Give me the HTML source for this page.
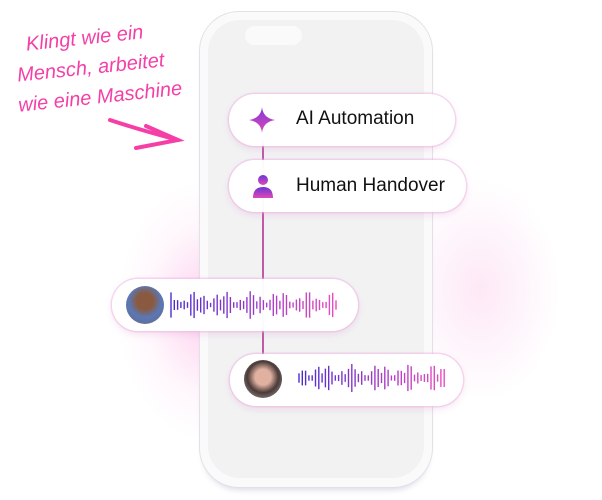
<!DOCTYPE html>
<html><head><style>
body{margin:0;width:602px;height:500px;background:#fff;position:relative;overflow:hidden;font-family:"Liberation Sans",sans-serif}
.abs{position:absolute}
.pill{position:absolute;background:rgba(255,255,255,.97);border-radius:28px;box-shadow:0 0 0 1.5px rgba(240,180,225,.5),0 3px 8px rgba(200,120,190,.2)}
.lbl{position:absolute;font-size:19px;color:#111;white-space:nowrap}
</style></head><body>
<div class="abs" style="left:40px;top:180px;width:260px;height:290px;border-radius:50%;background:radial-gradient(closest-side at 65% 45%,rgba(250,170,225,.55),rgba(255,220,242,.25) 65%,rgba(255,255,255,0))"></div>
<div class="abs" style="left:400px;top:180px;width:160px;height:220px;border-radius:50%;background:radial-gradient(closest-side,rgba(250,190,230,.35),rgba(255,255,255,0))"></div>
<div class="abs" style="left:199px;top:11px;width:234px;height:477px;border-radius:40px;background:#fafafa;border:1px solid #e4e0e8;box-sizing:border-box;box-shadow:0 6px 6px -4px rgba(120,110,160,.25)"></div>
<div class="abs" style="left:208px;top:20px;width:216px;height:458px;border-radius:32px;background:#f2f2f3"></div>
<div class="abs" style="left:245px;top:26px;width:57px;height:19px;border-radius:10px;background:#fafafa"></div>
<div class="abs" style="left:262px;top:140px;width:1.5px;height:215px;background:#c05aa8"></div>
<div class="pill" style="left:229px;top:94px;width:226px;height:52px"></div>
<svg class="abs" style="left:249px;top:107px" width="26" height="26" viewBox="0 0 26 26"><defs><linearGradient id="g0" x1="0" y1="0" x2="0" y2="1"><stop offset="0" stop-color="#7b3ad8"/><stop offset="1" stop-color="#e048b8"/></linearGradient></defs><path d="M13 0 Q14 11 26 13 Q14 15 13 26 Q12 15 0 13 Q12 11 13 0Z" fill="url(#g0)"/></svg>
<div class="lbl" style="left:296px;top:108px">AI Automation</div>
<div class="pill" style="left:229px;top:160px;width:237px;height:52px"></div>
<svg class="abs" style="left:252px;top:174px" width="22" height="24" viewBox="0 0 22 24"><defs><linearGradient id="g1" x1="0" y1="0" x2="0" y2="1"><stop offset="0" stop-color="#6a35d5"/><stop offset="1" stop-color="#e048b8"/></linearGradient></defs><circle cx="11" cy="6" r="5" fill="url(#g1)"/><path d="M1 24 Q1 13 11 13 Q21 13 21 24Z" fill="url(#g1)"/></svg>
<div class="lbl" style="left:296px;top:175px">Human Handover</div>
<div class="pill" style="left:112px;top:279px;width:246px;height:52px"></div>
<div class="abs" style="left:126px;top:286px;width:38px;height:38px;border-radius:50%;background:radial-gradient(circle at 50% 40%,#8a5a40 0 28%,#5a78b8 55%,#667 100%)"></div>
<div class="pill" style="left:230px;top:354px;width:233px;height:52px"></div>
<div class="abs" style="left:244px;top:360px;width:38px;height:38px;border-radius:50%;background:radial-gradient(circle at 50% 45%,#e0b0a0 0 28%,#4a3a38 55%,#aaa 100%)"></div>
<svg class="abs" style="left:0;top:0" width="602" height="500">
<defs>
<linearGradient id="w1" x1="170" x2="337" gradientUnits="userSpaceOnUse"><stop offset="0" stop-color="#4a2bcf"/><stop offset="1" stop-color="#ea4cc0"/></linearGradient>
<linearGradient id="w2" x1="298" x2="445" gradientUnits="userSpaceOnUse"><stop offset="0" stop-color="#4a2bcf"/><stop offset="1" stop-color="#ea4cc0"/></linearGradient>
</defs>
<g stroke="url(#w1)" stroke-width="1.4" id="wa"></g>
<g stroke="url(#w2)" stroke-width="1.4" id="wb"></g>
<g fill="none" stroke="#f53fa6" stroke-width="4" stroke-linecap="round">
<path d="M110 120 Q140 130 178 140"/><path d="M146 126 L178 140 L136 148"/>
</g>
<g fill="#f53fa6" font-family="Liberation Sans,sans-serif" font-style="italic" font-size="20" transform="rotate(-6 90 60)">
<text x="28" y="44">Klingt wie ein</text>
<text x="16" y="74">Mensch, arbeitet</text>
<text x="14" y="104">wie eine Maschine</text>
</g>
</svg>
<script>
function w(id,x0,x1,cy,seed){var g=document.getElementById(id),s='',i=0;for(var x=x0;x<=x1;x+=3.3){i++;var h=4+Math.abs(Math.sin(i*0.9+seed)*Math.cos(i*0.37))*24;s+='<line x1="'+x+'" x2="'+x+'" y1="'+(cy-h/2)+'" y2="'+(cy+h/2)+'"/>';}g.innerHTML=s;}
w('wa',171,337,305,1);w('wb',299,445,378,2);
</script>
</body></html>
